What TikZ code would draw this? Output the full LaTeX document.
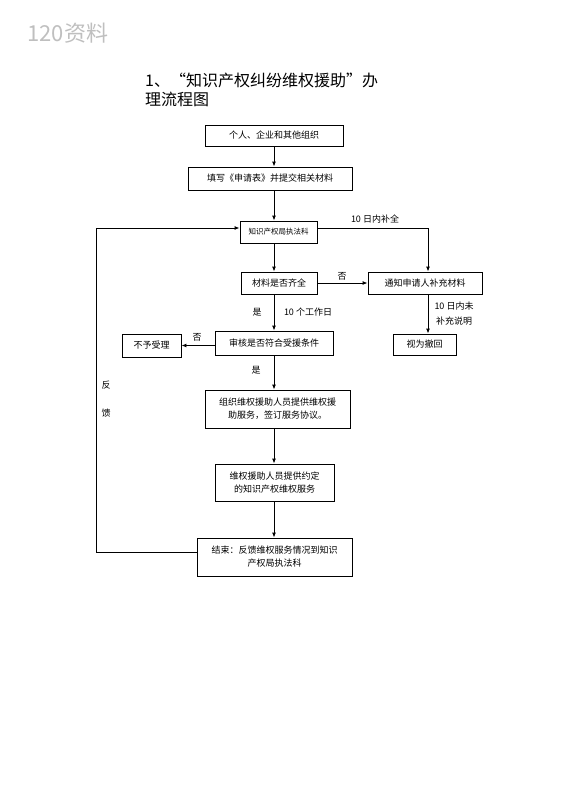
\documentclass[tikz,border=0pt]{standalone}
\usepackage{fontspec}
\setmainfont{Noto Sans CJK SC}
\newfontfamily\cjk{Noto Sans CJK SC}
\usetikzlibrary{arrows.meta}
\begin{document}
\begin{tikzpicture}[x=1pt,y=-1pt,
  box/.style={draw, line width=0.9pt, inner sep=0pt, font=\fontsize{9}{13}\selectfont, align=center},
  arr/.style={line width=0.9pt, -{Latex[length=5pt,width=4pt]}},
  ln/.style={line width=0.9pt},
  lab/.style={font=\fontsize{9}{11}\selectfont, inner sep=0pt}]
\useasboundingbox (0,0) rectangle (565,800);
\node[font=\fontsize{22}{24}\selectfont, text=black!25, anchor=west] (wm) at (24,33) {120资料};
\node[font=\fontsize{16}{19}\selectfont, anchor=north west, align=left, inner sep=0pt] (title) at (145,73) {1、“知识产权纠纷维权援助”办\\理流程图};

\node[box, minimum width=138pt, minimum height=21pt] (b1) at (274,135.5) {个人、企业和其他组织};
\node[box, minimum width=164pt, minimum height=23pt] (b2) at (270,178.5) {填写《申请表》并提交相关材料};
\node[box, minimum width=77pt, minimum height=22pt, font=\fontsize{7.5}{9}\selectfont] (b3) at (278.5,232) {知识产权局执法科};
\node[box, minimum width=76pt, minimum height=22pt] (b4) at (279,283) {材料是否齐全};
\node[box, minimum width=114pt, minimum height=22pt] (b5) at (425,283) {通知申请人补充材料};
\node[box, minimum width=118pt, minimum height=24pt] (b6) at (274,343) {审核是否符合受援条件};
\node[box, minimum width=59pt, minimum height=23pt] (b7) at (151.5,345.5) {不予受理};
\node[box, minimum width=63pt, minimum height=21pt] (b8) at (424.5,344.5) {视为撤回};
\node[box, minimum width=145pt, minimum height=38pt] (b9) at (277.5,409) {组织维权援助人员提供维权援\\助服务，签订服务协议。};
\node[box, minimum width=119pt, minimum height=37pt] (b10) at (274.5,482.5) {维权援助人员提供约定\\的知识产权维权服务};
\node[box, minimum width=155pt, minimum height=38pt] (b11) at (274.5,557) {结束：反馈维权服务情况到知识\\产权局执法科};

\coordinate (ax) at (274,0);
\coordinate (rx) at (428,0);
\coordinate (ty) at (0,228);
\coordinate (fbx) at (96,0);
\coordinate (fy) at (0,552);

\draw[arr] (b1.south -| ax) -- (b2.north -| ax);
\draw[arr] (b2.south -| ax) -- (b3.north -| ax);
\draw[arr] (b3.south -| ax) -- (b4.north -| ax);
\draw[arr] (b3.east |- ty) -- (rx |- ty) -- (b5.north -| rx);
\draw[arr] (b4.east) -- (b5.west);
\draw[arr] (b4.south -| ax) -- (b6.north -| ax);
\draw[arr] (b6.west |- b7.east) -- (b7.east);
\draw[arr] (b5.south -| rx) -- (b8.north -| rx);
\draw[arr] (b6.south -| ax) -- (b9.north -| ax);
\draw[arr] (b9.south -| ax) -- (b10.north -| ax);
\draw[arr] (b10.south -| ax) -- (b11.north -| ax);
\draw[arr] (b11.west |- fy) -- (fbx |- fy) -- (fbx |- ty) -- (b3.west |- ty);

\node[lab] (l1) at (375,219) {10 日内补全};
\node[lab] (l2) at (342,276) {否};
\node[lab] (l3) at (257,312) {是};
\node[lab] (l4) at (308,312) {10 个工作日};
\node[lab] (l5) at (197,337) {否};
\node[lab] (l6) at (454,306) {10 日内未};
\node[lab] (l7) at (454,321) {补充说明};
\node[lab] (l8) at (256,370) {是};
\node[lab] (l9) at (106,385) {反};
\node[lab] (l10) at (106,413) {馈};
\end{tikzpicture}
\end{document}
